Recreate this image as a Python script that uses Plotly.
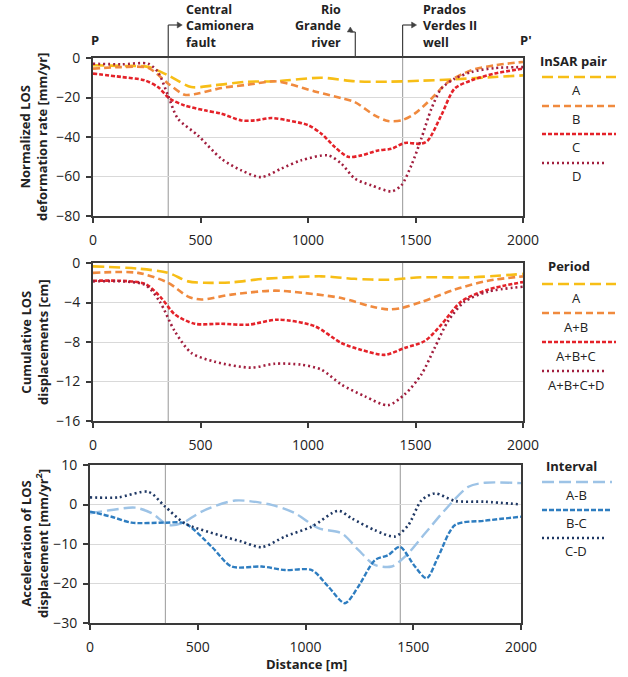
import plotly.graph_objects as go

W, H = 628, 677
FONT = "Open Sans"

# ---------------- data ----------------
# Panel 1: Normalized LOS deformation rate [mm/yr]
rate_A_x = [0, 130, 256, 350, 457, 566, 721, 845, 1062, 1217, 1372, 1527, 1682, 1837, 2000]
rate_A_y = [-3.7, -4.0, -4.5, -8.8, -14.7, -13.8, -12.0, -11.8, -10.0, -11.8, -12.0, -11.5, -10.8, -9.8, -8.8]
rate_B_x = [0, 132, 256, 350, 426, 488, 597, 721, 845, 907, 1031, 1155, 1217, 1310, 1372, 1434, 1496, 1574, 1651, 1760, 1868, 2000]
rate_B_y = [-5.4, -4.6, -5.0, -13.0, -18.6, -18.0, -15.2, -13.5, -11.8, -13.0, -16.9, -20.3, -22.3, -29.0, -31.9, -31.6, -28.2, -20.6, -12.2, -6.2, -3.7, -2.0]
rate_C_x = [0, 132, 240, 302, 357, 426, 519, 597, 690, 752, 829, 907, 1000, 1062, 1124, 1186, 1248, 1326, 1388, 1450, 1527, 1558, 1620, 1682, 1760, 1868, 2000]
rate_C_y = [-7.9, -9.6, -11.3, -14.7, -20.6, -24.0, -26.5, -28.2, -31.6, -31.6, -30.4, -31.6, -34.0, -38.3, -45.0, -50.0, -49.3, -46.8, -46.0, -43.0, -43.4, -41.7, -29.0, -15.5, -11.3, -7.9, -5.4]
rate_D_x = [0, 132, 256, 302, 349, 395, 488, 597, 690, 783, 876, 969, 1093, 1155, 1217, 1295, 1388, 1434, 1481, 1527, 1574, 1620, 1682, 1760, 1868, 2000]
rate_D_y = [-2.9, -3.2, -2.9, -7.1, -19.0, -30.7, -39.2, -51.0, -56.9, -60.3, -56.0, -51.8, -49.3, -53.5, -61.0, -64.5, -67.5, -64.5, -54.3, -40.8, -25.7, -15.5, -10.5, -7.1, -5.1, -4.6]

# Panel 2: Cumulative LOS displacements [cm]
cum_A_x = [0, 209, 349, 442, 519, 643, 798, 1062, 1217, 1372, 1527, 1760, 2000]
cum_A_y = [-0.34, -0.57, -1.0, -1.86, -2.0, -1.96, -1.6, -1.35, -1.6, -1.7, -1.45, -1.45, -1.1]
cum_B_x = [0, 209, 349, 442, 504, 643, 845, 984, 1155, 1295, 1372, 1434, 1527, 1682, 1837, 2000]
cum_B_y = [-1.0, -1.0, -2.0, -3.4, -3.7, -3.2, -2.8, -3.04, -3.55, -4.4, -4.7, -4.56, -3.95, -2.7, -1.8, -1.35]
cum_C_x = [0, 240, 318, 380, 473, 597, 721, 860, 1031, 1155, 1248, 1357, 1450, 1543, 1620, 1713, 1837, 2000]
cum_C_y = [-1.8, -2.1, -3.55, -5.2, -6.15, -6.15, -6.25, -5.74, -6.4, -8.1, -8.8, -9.3, -8.6, -7.9, -6.25, -3.9, -2.7, -1.93]
cum_D_x = [0, 240, 310, 380, 457, 566, 736, 845, 969, 1062, 1155, 1264, 1372, 1450, 1527, 1589, 1651, 1729, 1837, 2000]
cum_D_y = [-1.86, -2.2, -3.9, -6.9, -9.1, -10.0, -10.6, -10.2, -10.3, -10.8, -12.3, -13.5, -14.4, -13.3, -11.3, -8.6, -5.9, -3.9, -2.9, -2.4]

# Panel 3: Acceleration of LOS displacement [mm/yr^2]
acc_AB_x = [0, 100, 209, 286, 364, 425, 518, 673, 843, 951, 1060, 1168, 1245, 1322, 1400, 1462, 1555, 1647, 1756, 1833, 2000]
acc_AB_y = [-2.2, -1.4, -0.8, -2.2, -5.2, -4.8, -1.8, 1.0, -0.1, -2.2, -6.0, -7.3, -11.5, -15.3, -15.7, -13.2, -7.3, -1.4, 4.5, 5.5, 5.4]
acc_BC_x = [0, 100, 193, 348, 441, 565, 657, 797, 905, 1029, 1106, 1183, 1245, 1322, 1384, 1438, 1508, 1562, 1616, 1694, 1833, 2000]
acc_BC_y = [-1.8, -3.1, -4.6, -4.6, -4.8, -10.7, -15.7, -15.7, -16.6, -16.6, -20.8, -25.0, -20.8, -14.1, -12.8, -10.7, -15.7, -18.7, -13.2, -5.2, -4.1, -3.1]
acc_CD_x = [0, 131, 271, 348, 441, 596, 704, 797, 905, 1029, 1152, 1214, 1322, 1415, 1477, 1539, 1601, 1694, 1833, 2000]
acc_CD_y = [1.8, 1.8, 3.2, -0.5, -4.8, -7.7, -9.4, -10.8, -8.1, -5.6, -1.6, -3.5, -6.5, -8.1, -5.2, 1.1, 2.8, 0.9, 0.7, 0.0]

x_ticks = [0, 500, 1000, 1500, 2000]
rate_ticks = [0, -20, -40, -60, -80]
cum_ticks = [0, -4, -8, -12, -16]
acc_ticks = [10, 0, -10, -20, -30]

FAULT_X = 350
RIVER_X = 1220
WELL_X = 1440

rate_labels = ["A", "B", "C", "D"]
cum_labels = ["A", "A+B", "A+B+C", "A+B+C+D"]
acc_labels = ["A-B", "B-C", "C-D"]

# ---------------- styles ----------------
warm_styles = [
    dict(color="#F7BE16", dash="11px,5px", width=2.6),
    dict(color="#F08A3E", dash="7px,4px", width=2.6),
    dict(color="#E42229", dash="4px,2px", width=2.6),
    dict(color="#A11E3E", dash="2px,3px", width=2.6),
]
cool_styles = [
    dict(color="#9DC3E6", dash="12px,5px", width=2.4),
    dict(color="#2E7DC0", dash="5px,2px", width=2.4),
    dict(color="#1F3864", dash="2px,3px", width=2.6),
]

# panel pixel geometry
P1 = dict(x0=93, x1=523, top=58, bot=216)
P2 = dict(x0=93, x1=523, top=263, bot=421)
P3 = dict(x0=90, x1=521, top=465, bot=623)


def fx(px):
    return px / W


def fy(py):
    return 1 - py / H


fig = go.Figure()

panels = [
    ("x", "y", [(rate_A_x, rate_A_y), (rate_B_x, rate_B_y), (rate_C_x, rate_C_y), (rate_D_x, rate_D_y)], warm_styles),
    ("x2", "y2", [(cum_A_x, cum_A_y), (cum_B_x, cum_B_y), (cum_C_x, cum_C_y), (cum_D_x, cum_D_y)], warm_styles),
    ("x3", "y3", [(acc_AB_x, acc_AB_y), (acc_BC_x, acc_BC_y), (acc_CD_x, acc_CD_y)], cool_styles),
]
for xa, ya, series, styles in panels:
    for (xs, ys), st in zip(series, styles):
        fig.add_trace(go.Scatter(x=xs, y=ys, xaxis=xa, yaxis=ya, mode="lines",
                                 line=dict(shape="spline", smoothing=0.8, **st),
                                 showlegend=False, hoverinfo="skip"))

axis_common = dict(showline=True, linecolor="#3a3a3a", linewidth=2, mirror=True,
                   ticks="outside", ticklen=5, tickwidth=1.5, tickcolor="#3a3a3a",
                   zeroline=False, automargin=False,
                   tickfont=dict(family=FONT, size=14, color="#222"))


def xaxis_cfg(p, anchor):
    return dict(domain=[fx(p["x0"]), fx(p["x1"])], anchor=anchor, range=[0, 2000],
                tickvals=x_ticks, showgrid=False, ticklabelstandoff=5, **axis_common)


def yaxis_cfg(p, anchor, rng, ticks):
    return dict(domain=[fy(p["bot"]), fy(p["top"])], anchor=anchor, range=rng,
                tickvals=ticks, showgrid=True, gridcolor="#d9d9d9", gridwidth=1,
                ticklabelstandoff=3, **axis_common)


fig.update_layout(
    width=W, height=H, margin=dict(l=0, r=0, t=0, b=0, autoexpand=False),
    paper_bgcolor="white", plot_bgcolor="white",
    font=dict(family=FONT, color="#222"),
    xaxis=xaxis_cfg(P1, "y"), yaxis=yaxis_cfg(P1, "x", [-80, 0], rate_ticks),
    xaxis2=xaxis_cfg(P2, "y2"), yaxis2=yaxis_cfg(P2, "x2", [-16, 0], cum_ticks),
    xaxis3=xaxis_cfg(P3, "y3"), yaxis3=yaxis_cfg(P3, "x3", [-30, 10], acc_ticks),
)

shapes = []
annotations = []


def label(text, x, y, size=13, xanchor="center", angle=0, align="center"):
    annotations.append(dict(text=text, xref="paper", yref="paper", x=fx(x), y=fy(y),
                            xanchor=xanchor, yanchor="middle", textangle=angle, align=align,
                            showarrow=False, font=dict(family=FONT, size=size, color="#222")))


# gray vertical reference lines in each panel
for xr, yr in [("x", "y"), ("x2", "y2"), ("x3", "y3")]:
    for vx in (FAULT_X, WELL_X):
        shapes.append(dict(type="line", xref=xr, yref=yr + " domain", x0=vx, x1=vx, y0=0, y1=1,
                           line=dict(color="#a8a8a8", width=1.2), layer="below"))

# y-axis titles
ytitles = [
    ("Normalized LOS<br>deformation rate [mm/yr]", P1),
    ("Cumulative LOS<br>displacements [cm]", P2),
    ("Acceleration of LOS<br>displacement [mm/yr<sup>2</sup>]", P3),
]
for txt, p in ytitles:
    label("<b>" + txt + "</b>", 34, (p["top"] + p["bot"]) / 2, angle=-90)

label("<b>Distance [m]</b>", 306, 664)


# custom legends (line sample above centered label)
def legend_block(title, title_xy, entries):
    label("<b>" + title + "</b>", title_xy[0], title_xy[1], xanchor="left")
    for text, st, ly, ty, x1 in entries:
        shapes.append(dict(type="line", xref="paper", yref="paper", x0=fx(542), x1=fx(x1),
                           y0=fy(ly), y1=fy(ly),
                           line=dict(color=st["color"], width=st["width"], dash=st["dash"])))
        label(text, 576, ty)


legend_block("InSAR pair", (538, 61), [
    (rate_labels[0], warm_styles[0], 77, 90, 616),
    (rate_labels[1], warm_styles[1], 106, 119, 616),
    (rate_labels[2], warm_styles[2], 134, 147, 616),
    (rate_labels[3], warm_styles[3], 163, 176, 606),
])
legend_block("Period", (546, 266), [
    (cum_labels[0], warm_styles[0], 284, 298, 616),
    (cum_labels[1], warm_styles[1], 313, 327, 616),
    (cum_labels[2], warm_styles[2], 342, 356, 616),
    (cum_labels[3], warm_styles[3], 371, 385, 606),
])
legend_block("Interval", (544, 466), [
    (acc_labels[0], cool_styles[0], 482, 495, 612),
    (acc_labels[1], cool_styles[1], 510, 523, 612),
    (acc_labels[2], cool_styles[2], 538, 551, 606),
])


# top labels and connectors
def dpx(d, p=P1):
    return p["x0"] + d / 2000 * (p["x1"] - p["x0"])


def seg(x0, y0, x1, y1):
    shapes.append(dict(type="line", xref="paper", yref="paper", x0=fx(x0), x1=fx(x1),
                       y0=fy(y0), y1=fy(y1), line=dict(color="#404040", width=1.2)))


def tri(pts):
    path = "M " + " L ".join(f"{fx(a):.5f},{fy(b):.5f}" for a, b in pts) + " Z"
    shapes.append(dict(type="path", xref="paper", yref="paper", path=path,
                       fillcolor="#404040", line=dict(color="#404040", width=0.5)))


fpx, wpx, rpx = dpx(FAULT_X), dpx(WELL_X), dpx(RIVER_X)

# fault connector: up, then right with arrow
seg(fpx, P1["top"], fpx, 25)
seg(fpx, 25, fpx + 10, 25)
tri([(fpx + 14, 25), (fpx + 9, 22), (fpx + 9, 28)])
label("<b>Central<br>Camionera<br>fault</b>", 184, 26, size=12.5, xanchor="left", align="left")

# well connector
seg(wpx, P1["top"], wpx, 25)
seg(wpx, 25, wpx + 10, 25)
tri([(wpx + 14, 25), (wpx + 9, 22), (wpx + 9, 28)])
label("<b>Prados<br>Verdes II<br>well</b>", 421, 26, size=12.5, xanchor="left", align="left")

# river connector: up, then short left with arrow pointing up
seg(rpx, P1["top"], rpx, 32)
seg(rpx, 32, rpx - 5, 32)
tri([(rpx - 5, 27), (rpx - 8, 32), (rpx - 2, 32)])
label("<b>Rio<br>Grande<br>river</b>", 343, 26, size=12.5, xanchor="right", align="right")

# P, P'
label("<b>P</b>", 95, 40)
label("<b>P'</b>", 526, 40)

fig.update_layout(shapes=shapes, annotations=annotations)
fig.write_html("out.html", config={"displayModeBar": False},
               post_script="document.body.style.margin='0px';")
